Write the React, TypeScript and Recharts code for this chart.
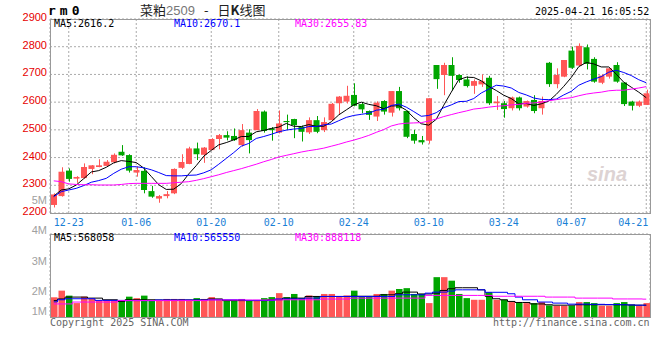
import { ComposedChart, Bar, Line, XAxis, YAxis, CartesianGrid } from "recharts";

// trading days, 2024-12-19 .. 2025-04-21
const dates = [
  "12-19", "12-20", "12-23", "12-24", "12-25", "12-26", "12-27", "12-30", "12-31", "01-02",
  "01-03", "01-06", "01-07", "01-08", "01-09", "01-10", "01-13", "01-14", "01-15", "01-16",
  "01-17", "01-20", "01-21", "01-22", "01-23", "01-24", "01-27", "02-05", "02-06", "02-07",
  "02-10", "02-11", "02-12", "02-13", "02-14", "02-17", "02-18", "02-19", "02-20", "02-21",
  "02-24", "02-25", "02-26", "02-27", "02-28", "03-03", "03-04", "03-05", "03-06", "03-07",
  "03-10", "03-11", "03-12", "03-13", "03-14", "03-17", "03-18", "03-19", "03-20", "03-21",
  "03-24", "03-25", "03-26", "03-27", "03-28", "03-31", "04-01", "04-02", "04-03", "04-07",
  "04-08", "04-09", "04-10", "04-11", "04-14", "04-15", "04-16", "04-17", "04-18", "04-21",
];

const opens = [
  2229, 2261, 2353, 2324, 2326, 2359, 2366, 2370, 2383, 2421,
  2409, 2346, 2352, 2279, 2252, 2261, 2271, 2363, 2377, 2433,
  2410, 2427, 2467, 2481, 2478, 2445, 2490, 2499, 2566, 2505,
  2490, 2532, 2539, 2511, 2491, 2535, 2499, 2535, 2596, 2602,
  2626, 2593, 2568, 2548, 2604, 2562, 2640, 2568, 2485, 2463,
  2461, 2734, 2698, 2734, 2698, 2682, 2659, 2664, 2688, 2596,
  2596, 2578, 2617, 2584, 2608, 2578, 2742, 2665, 2692, 2786,
  2732, 2798, 2756, 2670, 2692, 2734, 2671, 2602, 2587, 2590,
];
const highs = [
  2271, 2365, 2361, 2333, 2379, 2373, 2394, 2391, 2415, 2445,
  2412, 2367, 2365, 2298, 2265, 2279, 2361, 2412, 2439, 2454,
  2438, 2470, 2485, 2495, 2505, 2521, 2502, 2575, 2570, 2510,
  2570, 2555, 2540, 2515, 2545, 2550, 2545, 2597, 2622, 2659,
  2668, 2598, 2570, 2603, 2607, 2640, 2655, 2570, 2500, 2478,
  2614, 2734, 2742, 2762, 2700, 2693, 2682, 2700, 2695, 2622,
  2604, 2620, 2620, 2606, 2625, 2620, 2745, 2722, 2752, 2800,
  2812, 2808, 2762, 2700, 2724, 2744, 2672, 2605, 2606, 2645,
];
const lows = [
  2220, 2259, 2313, 2309, 2324, 2340, 2365, 2367, 2379, 2406,
  2346, 2331, 2271, 2255, 2237, 2253, 2268, 2359, 2376, 2391,
  2381, 2427, 2430, 2462, 2460, 2440, 2415, 2499, 2490, 2461,
  2487, 2500, 2470, 2458, 2485, 2488, 2492, 2532, 2555, 2595,
  2585, 2560, 2536, 2532, 2555, 2548, 2570, 2470, 2450, 2447,
  2450, 2648, 2625, 2642, 2670, 2653, 2630, 2655, 2590, 2572,
  2544, 2570, 2570, 2580, 2560, 2555, 2655, 2650, 2690, 2720,
  2730, 2718, 2670, 2665, 2685, 2670, 2586, 2570, 2582, 2590,
];
const closes = [
  2267, 2349, 2323, 2330, 2366, 2372, 2372, 2385, 2410, 2408,
  2353, 2355, 2283, 2259, 2261, 2268, 2359, 2384, 2433, 2412,
  2436, 2467, 2481, 2472, 2463, 2499, 2463, 2568, 2496, 2499,
  2523, 2528, 2517, 2493, 2535, 2493, 2528, 2594, 2620, 2623,
  2587, 2574, 2554, 2598, 2566, 2640, 2578, 2475, 2461, 2455,
  2614, 2683, 2734, 2695, 2680, 2658, 2676, 2676, 2596, 2602,
  2575, 2617, 2578, 2604, 2568, 2604, 2665, 2698, 2752, 2724,
  2803, 2738, 2674, 2696, 2722, 2674, 2593, 2587, 2602, 2632,
];

const ma5 = [
  2261, 2283, 2287, 2301, 2324, 2348, 2353, 2365, 2381, 2389,
  2386, 2382, 2362, 2332, 2302, 2285, 2286, 2306, 2341, 2371,
  2405, 2426, 2446, 2454, 2464, 2476, 2476, 2493, 2498, 2505,
  2510, 2523, 2513, 2512, 2519, 2513, 2513, 2529, 2554, 2572,
  2590, 2600, 2592, 2587, 2576, 2586, 2587, 2571, 2544, 2522,
  2517, 2538, 2589, 2636, 2681, 2690, 2689, 2677, 2657, 2642,
  2625, 2613, 2594, 2595, 2588, 2594, 2604, 2628, 2657, 2689,
  2728, 2743, 2738, 2727, 2727, 2701, 2672, 2654, 2636, 2616,
];
const ma10 = [
  2259, 2277, 2283, 2289, 2299, 2311, 2317, 2325, 2343, 2358,
  2367, 2367, 2363, 2356, 2346, 2335, 2334, 2334, 2336, 2337,
  2345, 2356, 2376, 2397, 2418, 2441, 2451, 2469, 2476, 2484,
  2493, 2499, 2503, 2505, 2512, 2512, 2518, 2521, 2533, 2545,
  2552, 2556, 2560, 2571, 2574, 2588, 2593, 2582, 2566, 2549,
  2552, 2562, 2580, 2590, 2602, 2603, 2613, 2633, 2647, 2661,
  2658, 2651, 2635, 2626, 2615, 2610, 2609, 2611, 2626, 2639,
  2661, 2673, 2683, 2692, 2708, 2715, 2707, 2696, 2681, 2670,
];
const ma30 = [
  2316, 2313, 2305, 2303, 2302, 2302, 2301, 2301, 2301, 2303,
  2306, 2307, 2307, 2307, 2307, 2307, 2309, 2311, 2313, 2318,
  2324, 2331, 2338, 2346, 2353, 2360, 2368, 2376, 2385, 2393,
  2402, 2408, 2414, 2420, 2425, 2429, 2434, 2441, 2448, 2456,
  2463, 2471, 2480, 2491, 2501, 2514, 2521, 2524, 2525, 2526,
  2532, 2539, 2548, 2555, 2562, 2568, 2575, 2578, 2582, 2585,
  2587, 2590, 2592, 2596, 2597, 2600, 2605, 2609, 2613, 2616,
  2623, 2629, 2633, 2636, 2641, 2643, 2643, 2647, 2651, 2656,
];

// volume, millions of lots
const volumes = [
  0.95, 1.27, 1.03, 0.67, 0.98, 0.87, 0.80, 0.79, 0.79, 0.79,
  0.98, 0.91, 1.03, 0.80, 0.79, 0.87, 0.87, 0.87, 0.83, 0.91,
  0.87, 0.96, 0.87, 0.79, 0.79, 0.87, 0.79, 0.79, 0.91, 0.96,
  1.15, 0.96, 1.11, 0.91, 1.04, 1.00, 1.11, 1.11, 1.00, 1.04,
  1.27, 1.00, 1.00, 1.11, 1.11, 1.27, 1.35, 1.39, 1.11, 1.11,
  0.67, 1.92, 1.92, 1.75, 1.11, 0.91, 0.83, 0.83, 1.20, 0.83,
  0.83, 0.72, 0.72, 0.67, 0.67, 0.72, 0.56, 0.54, 0.54, 0.54,
  0.72, 0.72, 0.67, 0.54, 0.54, 0.67, 0.72, 0.59, 0.54, 0.67,
];
const volMa5 = [
  0.79, 0.87, 0.96, 0.96, 0.96, 0.91, 0.91, 0.83, 0.83, 0.75,
  0.83, 0.83, 0.83, 0.83, 0.82, 0.82, 0.82, 0.82, 0.82, 0.82,
  0.82, 0.87, 0.87, 0.79, 0.79, 0.79, 0.79, 0.79, 0.79, 0.83,
  0.83, 0.91, 0.91, 0.91, 0.99, 0.99, 0.99, 0.99, 0.99, 0.99,
  1.00, 1.00, 1.00, 1.00, 1.07, 1.07, 1.12, 1.20, 1.20, 1.11,
  1.11, 1.15, 1.28, 1.36, 1.41, 1.41, 1.41, 1.31, 1.00, 0.88,
  0.83, 0.75, 0.70, 0.70, 0.63, 0.63, 0.59, 0.57, 0.57, 0.57,
  0.59, 0.59, 0.59, 0.59, 0.59, 0.59, 0.59, 0.58, 0.57, 0.57,
];
const volMa10 = [
  0.73, 0.83, 0.88, 0.88, 0.88, 0.88, 0.80, 0.80, 0.80, 0.80,
  0.79, 0.79, 0.79, 0.79, 0.82, 0.82, 0.82, 0.82, 0.82, 0.82,
  0.82, 0.83, 0.83, 0.83, 0.83, 0.83, 0.80, 0.80, 0.80, 0.80,
  0.87, 0.87, 0.87, 0.87, 0.91, 0.91, 0.99, 0.99, 0.99, 0.99,
  0.99, 0.99, 0.99, 0.99, 0.99, 0.99, 1.07, 1.07, 1.07, 1.07,
  1.15, 1.20, 1.20, 1.25, 1.31, 1.31, 1.31, 1.31, 1.19, 1.19,
  1.19, 1.12, 0.96, 0.83, 0.83, 0.72, 0.72, 0.67, 0.67, 0.62,
  0.62, 0.62, 0.61, 0.61, 0.60, 0.60, 0.59, 0.58, 0.57, 0.57,
];
const volMa30 = [
  0.63, 0.63, 0.63, 0.72, 0.72, 0.72, 0.72, 0.72, 0.72, 0.79,
  0.79, 0.79, 0.79, 0.79, 0.79, 0.79, 0.79, 0.79, 0.79, 0.79,
  0.79, 0.82, 0.82, 0.82, 0.82, 0.82, 0.82, 0.82, 0.82, 0.82,
  0.82, 0.83, 0.83, 0.83, 0.83, 0.83, 0.865, 0.865, 0.865, 0.865,
  0.91, 0.91, 0.91, 0.91, 0.91, 0.91, 0.91, 0.91, 0.91, 0.91,
  1.04, 1.04, 1.04, 1.04, 1.04, 1.04, 1.04, 1.04, 1.04, 1.00,
  1.00, 1.00, 1.00, 1.00, 1.00, 1.00, 0.96, 0.96, 0.96, 0.96,
  0.91, 0.91, 0.91, 0.91, 0.91, 0.87, 0.87, 0.87, 0.87, 0.86,
];

const priceTicks = [2200, 2300, 2400, 2500, 2600, 2700, 2800, 2900];
const dateTicks = ["12-23", "01-06", "01-20", "02-10", "02-24", "03-10", "03-24", "04-07", "04-21"];
const volTicks = [0, 1, 2, 3, 4];
const volLabels = ["5M", "4M", "3M", "2M", "1M"];

const UP = "#ff5656";
const DOWN = "#00a600";
const GRID = "#aaaaaa";
const FRAME = "#999999";
const MONO = "'DejaVu Sans Mono', monospace";
const SANS = "'Liberation Sans', Arial, sans-serif";

const rows = dates.map((date, i) => ({
  date,
  open: opens[i],
  high: highs[i],
  low: lows[i],
  close: closes[i],
  range: [lows[i], highs[i]],
  ma5: ma5[i],
  ma10: ma10[i],
  ma30: ma30[i],
  vol: volumes[i],
  vma5: volMa5[i],
  vma10: volMa10[i],
  vma30: volMa30[i],
}));

function Candle(props: any) {
  const { x, y, width, height, payload } = props;
  const { open, close, high, low } = payload;
  const color = close >= open ? UP : DOWN;
  const top = Math.min(y, y + height);
  const h = Math.abs(height);
  const k = high === low ? 0 : h / (high - low);
  const bodyTop = top + (high - Math.max(open, close)) * k;
  const bodyBottom = top + (high - Math.min(open, close)) * k;
  const cx = Math.round(x + width / 2) + 0.5;
  return (
    <g>
      <line x1={cx} x2={cx} y1={top} y2={top + h} stroke={color} strokeWidth={1} />
      <rect x={x} y={bodyTop} width={width} height={Math.max(1, bodyBottom - bodyTop)} fill={color} />
    </g>
  );
}

function VolBar(props: any) {
  const { x, y, width, height, payload } = props;
  return <rect x={x} y={y} width={width} height={height} fill={payload.close >= payload.open ? UP : DOWN} />;
}

function PriceTick(props: any) {
  const { x, y, payload } = props;
  return (
    <text x={x - 3} y={y + 2} textAnchor="end" fill="#e60000" fontSize={11} fontFamily={SANS}>
      {payload.value}
    </text>
  );
}

function DateTick(props: any) {
  const { x, y, payload } = props;
  const last = dateTicks.indexOf(payload.value) === dateTicks.length - 1;
  return (
    <text x={last ? x + 2 : x} y={y + 12.5} textAnchor={last ? "end" : "middle"} fill="#1a7fd6" fontSize={10} fontFamily={MONO}>
      {payload.value}
    </text>
  );
}

const label = (left: number, top: number, color: string, extra: object = {}) => ({
  position: "absolute" as const,
  left,
  top,
  color,
  fontFamily: MONO,
  fontSize: 10,
  lineHeight: "12px",
  whiteSpace: "nowrap" as const,
  ...extra,
});

export default function App() {
  return (
    <div style={{ position: "absolute", left: 0, top: 0, width: 660, height: 360, background: "#fff", overflow: "hidden" }}>
      <div style={{ position: "absolute", left: 0, top: 0 }}>
        <ComposedChart width={660} height={232} data={rows} margin={{ top: 19, right: 10, bottom: 0, left: 0 }}>
          <CartesianGrid stroke={GRID} strokeDasharray="2 2" />
          <XAxis
            dataKey="date"
            ticks={dateTicks}
            interval={0}
            height={19}
            axisLine={false}
            tickLine={false}
            tickSize={0}
            tickMargin={0}
            tick={<DateTick />}
          />
          <YAxis
            domain={[2200, 2900]}
            ticks={priceTicks}
            width={50}
            axisLine={false}
            tickLine={false}
            tickSize={0}
            tickMargin={0}
            tick={<PriceTick />}
          />
          <Bar dataKey="range" barSize={6} shape={<Candle />} isAnimationActive={false} />
          <Line dataKey="ma5" stroke="#000000" strokeWidth={1} dot={false} isAnimationActive={false} />
          <Line dataKey="ma10" stroke="#0000ff" strokeWidth={1} dot={false} isAnimationActive={false} />
          <Line dataKey="ma30" stroke="#ff00ff" strokeWidth={1} dot={false} isAnimationActive={false} />
        </ComposedChart>
      </div>

      <div style={{ position: "absolute", left: 0, top: 228 }}>
        <ComposedChart width={660} height={92} data={rows} margin={{ top: 6, right: 10, bottom: 2, left: 0 }}>
          <CartesianGrid stroke={GRID} strokeDasharray="2 2" />
          <XAxis dataKey="date" ticks={dateTicks} interval={0} height={1} axisLine={false} tickLine={false} tick={false} />
          <YAxis domain={[0, 4]} ticks={volTicks} width={50} axisLine={false} tickLine={false} tick={false} />
          <Bar dataKey="vol" barSize={6.5} shape={<VolBar />} isAnimationActive={false} />
          <Line type="step" dataKey="vma5" stroke="#000000" strokeWidth={1} dot={false} isAnimationActive={false} />
          <Line type="step" dataKey="vma10" stroke="#0000ff" strokeWidth={1} dot={false} isAnimationActive={false} />
          <Line type="step" dataKey="vma30" stroke="#ff00ff" strokeWidth={1} dot={false} isAnimationActive={false} />
        </ComposedChart>
      </div>

      {/* frames */}
      <div style={{ position: "absolute", left: 50, top: 19, width: 601, height: 195, border: `1px solid ${FRAME}`, boxSizing: "border-box" }} />
      <div style={{ position: "absolute", left: 50, top: 234, width: 601, height: 84, border: `1px solid ${FRAME}`, boxSizing: "border-box" }} />

      {/* header */}
      <div style={label(48, 5, "#000", { fontSize: 13, fontWeight: "bold", letterSpacing: 4 })}>rm0</div>
      <div style={{ position: "absolute", left: 140, top: 2, fontSize: 13, lineHeight: "15px", color: "#222", fontFamily: "'Noto Sans CJK SC', sans-serif", whiteSpace: "nowrap" }}>
        菜粕<span style={{ color: "#777", fontFamily: SANS }}>2509</span>
        <span style={{ margin: "0 9px" }}>-</span>日<b>K</b>线图
      </div>
      <div style={label(535, 6, "#000")}>2025-04-21 16:05:52</div>

      <div style={label(54, 18, "#000")}>MA5:2616.2</div>
      <div style={label(174, 18, "#0000ff")}>MA10:2670.1</div>
      <div style={label(295, 18, "#ff00ff")}>MA30:2655.83</div>

      <div style={label(54, 232, "#000")}>MA5:568058</div>
      <div style={label(174, 232, "#0000ff")}>MA10:565550</div>
      <div style={label(295, 232, "#ff00ff")}>MA30:888118</div>

      {volLabels.map((t, i) => (
        <div
          key={t}
          style={{
            position: "absolute",
            right: 613,
            top: [194, 224, 255, 285, 305][i],
            fontFamily: SANS,
            fontSize: 11,
            lineHeight: "12px",
            color: "#a0a0a0",
          }}
        >
          {t}
        </div>
      ))}

      <div style={{ position: "absolute", left: 587, top: 163, fontFamily: SANS, fontStyle: "italic", fontWeight: "bold", fontSize: 20, color: "#ddd3d3" }}>
        sina
      </div>

      <div style={label(50, 317, "#666")}>Copyright 2025 SINA.COM</div>
      <div style={label(493, 317, "#666")}>http://finance.sina.com.cn</div>
    </div>
  );
}
